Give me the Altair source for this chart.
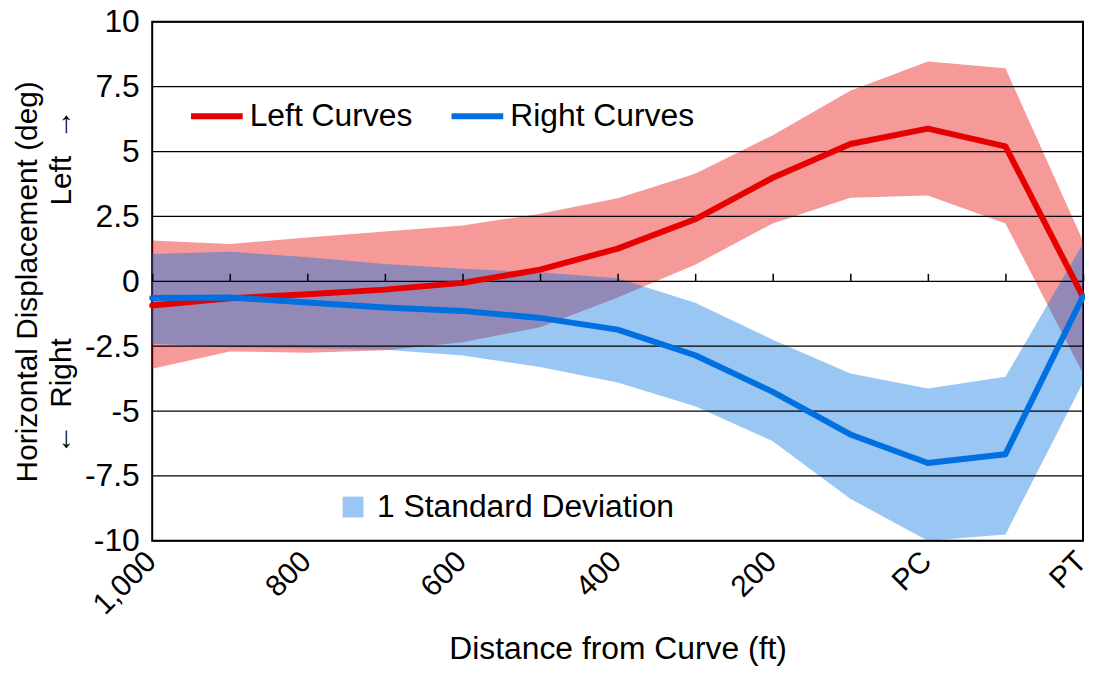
import altair as alt
import pandas as pd

# ---- data ----
categories = ["1,000", "900", "800", "700", "600", "500", "400", "300", "200", "100", "PC", "MC", "PT"]
label_values = ["1,000", "800", "600", "400", "200", "PC", "PT"]
series_names = ["Left Curves", "Right Curves"]
sd_label = "1 Standard Deviation"

left_mean = [-0.93, -0.65, -0.50, -0.32, -0.06, 0.45, 1.26, 2.39, 3.99, 5.29, 5.88, 5.20, -0.60]
left_upper = [1.57, 1.44, 1.69, 1.92, 2.15, 2.60, 3.20, 4.14, 5.63, 7.34, 8.47, 8.21, 1.55]
left_lower = [-3.37, -2.70, -2.75, -2.66, -2.35, -1.77, -0.62, 0.64, 2.23, 3.22, 3.31, 2.23, -3.55]

right_mean = [-0.64, -0.62, -0.82, -1.01, -1.14, -1.41, -1.86, -2.85, -4.26, -5.90, -7.00, -6.66, -0.58]
right_upper = [1.05, 1.14, 0.93, 0.67, 0.48, 0.35, 0.12, -0.83, -2.25, -3.55, -4.13, -3.68, 1.45]
right_lower = [-2.41, -2.54, -2.58, -2.64, -2.86, -3.30, -3.90, -4.81, -6.16, -8.38, -10.0, -9.75, -3.90]

y_ticks = [-10, -7.5, -5, -2.5, 0, 2.5, 5, 7.5, 10]

RED = "#E60000"
BLUE = "#0070E0"
FONT = "Liberation Sans"

rows = []
for i, c in enumerate(categories):
    rows.append(dict(cat=c, series=series_names[0], mean=left_mean[i], lower=left_lower[i], upper=left_upper[i]))
    rows.append(dict(cat=c, series=series_names[1], mean=right_mean[i], lower=right_lower[i], upper=right_upper[i]))
df = pd.DataFrame(rows)

xscale = alt.Scale(type="point", padding=0)
yscale = alt.Scale(domain=[-10, 10], nice=False, zero=False)

nb = "\u00a0"
y_title = [
    "Horizontal Displacement (deg)",
    "\u2190" + nb * 2 + "Right" + nb * 16 + "Left" + nb * 2 + "\u2192",
]

y_axis = alt.Axis(
    values=y_ticks, labelExpr="'' + datum.value", labelFontSize=32, labelPadding=13,
    labelColor="black", ticks=False, domain=False, grid=False,
    title=y_title, titleFontSize=30, titleFontWeight="normal", titleColor="black",
    titlePadding=8, titleLineHeight=34,
)

x_label_axis = alt.Axis(
    values=label_values, labelAngle=-45, labelAlign="right", labelBaseline="alphabetic",
    labelFontSize=30, labelColor="black", labelPadding=22, labelOffset=5,
    ticks=False, domain=False, grid=False, labelOverlap=False, labelBound=False,
    title="Distance from Curve (ft)", titleFontSize=32, titleFontWeight="normal",
    titleColor="black", titleY=118, titleBaseline="alphabetic",
)

x_tick_axis = alt.Axis(
    labels=False, ticks=True, tickSize=8, tickWidth=1.5, tickColor="black",
    domain=False, grid=False, title=None, offset=-261, zindex=1,
)

base = alt.Chart(df)

red_band = base.transform_filter(alt.datum.series == series_names[0]).mark_area(
    color=RED, opacity=0.4
).encode(
    x=alt.X("cat:O", sort=categories, scale=xscale, axis=x_label_axis),
    y=alt.Y("lower:Q", scale=yscale, axis=y_axis),
    y2="upper:Q",
)

blue_band = base.transform_filter(alt.datum.series == series_names[1]).transform_calculate(
    sd=f"'{sd_label}'"
).mark_area(opacity=0.4).encode(
    x=alt.X("cat:O", sort=categories, scale=xscale, axis=x_tick_axis),
    y=alt.Y("lower:Q", scale=yscale, axis=y_axis),
    y2="upper:Q",
    fill=alt.Fill(
        "sd:N",
        scale=alt.Scale(domain=[sd_label], range=[BLUE]),
        legend=alt.Legend(
            orient="none", legendX=186, legendY=472, title=None, symbolType="square",
            symbolSize=441, symbolOpacity=0.4, symbolStrokeWidth=0, labelFontSize=32,
            labelOffset=8, padding=0, labelColor="black", labelLimit=0,
        ),
    ),
)

grid = alt.Chart(pd.DataFrame({"v": y_ticks})).mark_rule(color="black", strokeWidth=1.3).encode(
    y=alt.Y("v:Q", scale=yscale, axis=y_axis)
)

lines = base.mark_line(strokeWidth=6, strokeJoin="round", strokeCap="round").encode(
    x=alt.X("cat:O", sort=categories, scale=xscale, axis=None),
    y=alt.Y("mean:Q", scale=yscale, axis=y_axis),
    stroke=alt.Stroke(
        "series:N",
        scale=alt.Scale(domain=series_names, range=[RED, BLUE]),
        legend=alt.Legend(
            orient="none", legendX=36, legendY=66, direction="horizontal", title=None,
            symbolType="stroke", symbolSize=2704, symbolStrokeWidth=6, labelFontSize=32,
            labelOffset=4, columnPadding=27, padding=0, labelColor="black", labelLimit=0,
        ),
    ),
)

chart = alt.layer(red_band, blue_band, grid, lines).resolve_axis(
    x="independent"
).properties(
    width=936, height=522,
    autosize=alt.AutoSizeParams(type="none"),
    padding={"left": 145, "top": 12, "right": 2, "bottom": 125},
).configure(font=FONT).configure_view(stroke="black", strokeWidth=2)

chart.save("out.html", embed_options={"renderer": "svg", "actions": False})
